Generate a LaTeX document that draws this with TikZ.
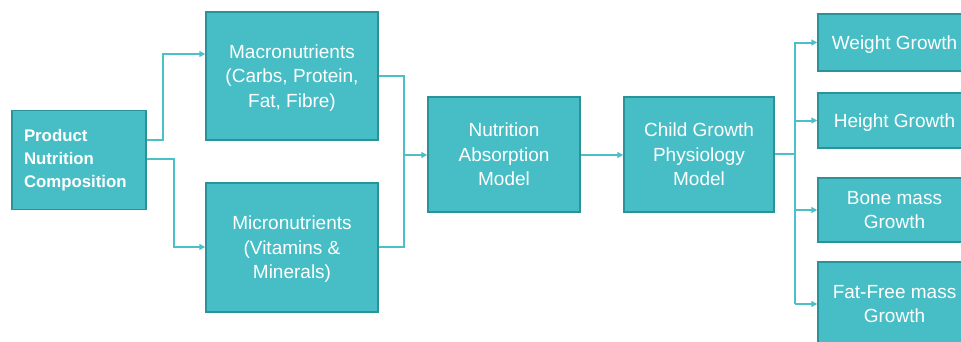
\documentclass[tikz,border=0pt]{standalone}
\usepackage{fontspec}
\setmainfont{Liberation Sans}
\usetikzlibrary{arrows.meta}
\definecolor{tealfill}{HTML}{47BEC5}
\definecolor{tealdraw}{HTML}{2C9299}
\definecolor{tealline}{HTML}{4CC0C7}
\tikzset{
  basebox/.style={draw=tealdraw, line width=1.5pt, fill=tealfill, text=white, inner sep=2pt},
  box/.style={basebox, align=center, text depth=0pt, font=\fontsize{19}{24.5}\selectfont},
  conn/.style={draw=tealline, line width=2pt, line join=miter},
  arr/.style={conn, -{Triangle[length=6pt,width=6pt]}}
}
\begin{document}
\begin{tikzpicture}[x=1pt, y=-1pt]
\useasboundingbox (0,0) rectangle (961,341);
\fill[white] (0,0) rectangle (961,341);
\begin{scope}
\clip (0,0) rectangle (961,341);
\node[basebox, minimum width=134pt, minimum height=99pt, text width=110pt, inner xsep=12pt, align=left,
  font=\fontsize{16.8}{23}\selectfont\bfseries] (prod) at (79,160) {Product\\Nutrition\\Composition};
\node[box, minimum width=172pt, minimum height=128pt] (macro) at (292,76) {Macronutrients\\(Carbs, Protein,\\Fat, Fibre)};
\node[box, minimum width=172pt, minimum height=129pt] (micro) at (292,247.5) {Micronutrients\\(Vitamins \&\\Minerals)};
\node[box, minimum width=152pt, minimum height=115pt] (absorb) at (504,154.5) {Nutrition\\Absorption\\Model};
\node[box, minimum width=150pt, minimum height=115pt] (child) at (699,154.5) {Child Growth\\Physiology\\Model};
\node[box, minimum width=153pt, minimum height=57pt] (weight) at (894.5,42.5) {Weight Growth};
\node[box, minimum width=153pt, minimum height=55pt] (height) at (894.5,120.5) {Height Growth};
\node[box, minimum width=153pt, minimum height=64pt] (bone) at (894.5,210) {Bone mass\\Growth};
\node[box, minimum width=153pt, minimum height=84pt] (fat) at (894.5,304) {Fat-Free mass\\Growth};
\end{scope}
\coordinate (jl) at (404,155);
\coordinate (jr) at (795,154);
% product to macro / micro
\draw[arr] (prod.east |- 0,140) -- (163,140) -- (163,54) -- (macro.west |- 0,54);
\draw[arr] (prod.east |- 0,159) -- (174,159) -- (174,247) -- (micro.west |- 0,247);
% macro / micro to absorption
\draw[conn] (macro.east |- 0,76) -- (jl |- 0,76) -- (jl |- 0,247) -- (micro.east |- 0,247);
\draw[arr] (jl) -- (absorb.west |- jl);
% absorption to child
\draw[arr] (absorb.east |- 0,155) -- (child.west |- 0,155);
% child to outcomes
\draw[conn] (child.east |- jr) -- (jr);
\draw[conn] (jr |- 0,42) -- (jr |- 0,304);
\draw[arr] (jr |- weight.west) -- (weight.west);
\draw[arr] (jr |- height.west) -- (height.west);
\draw[arr] (jr |- bone.west) -- (bone.west);
\draw[arr] (jr |- 0,304) -- (fat.west |- 0,304);
\end{tikzpicture}
\end{document}
